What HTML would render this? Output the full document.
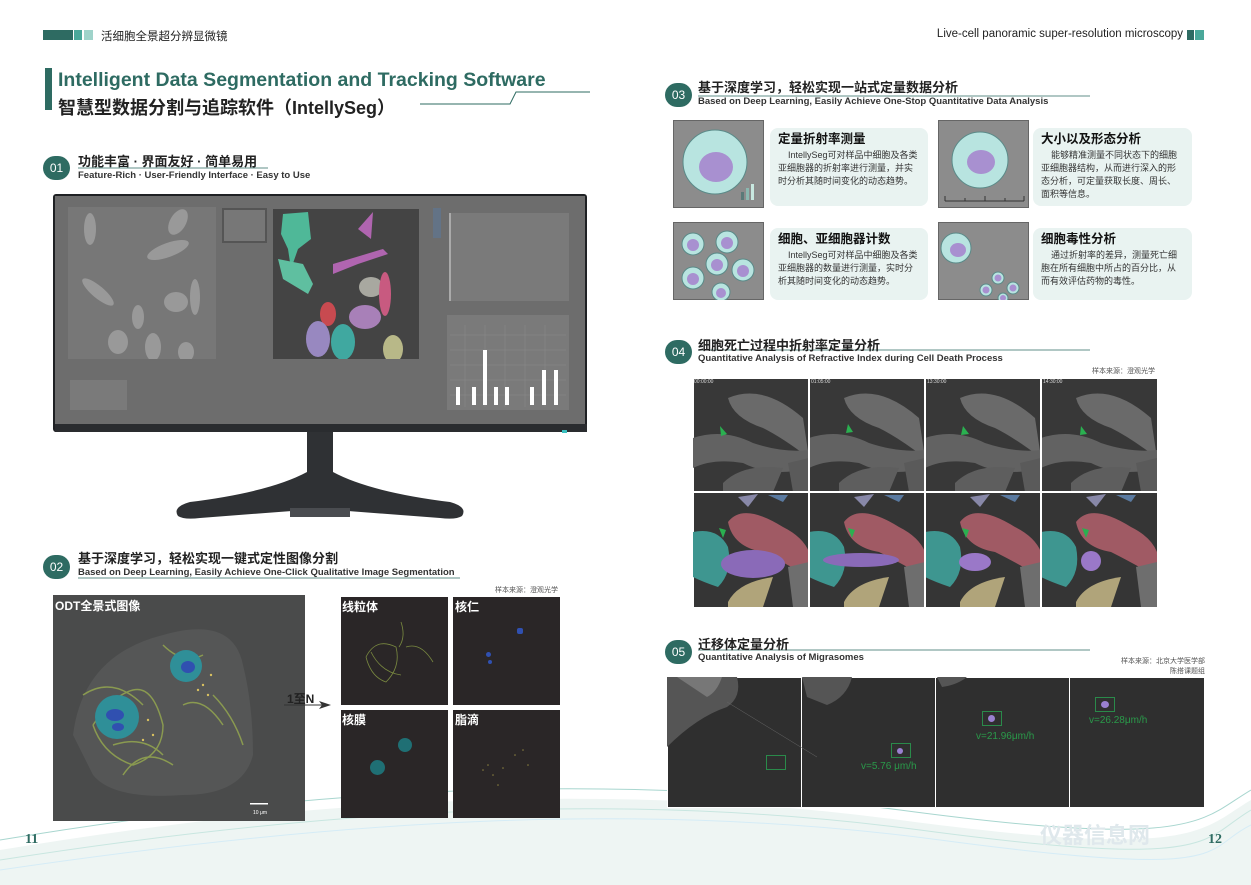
<!DOCTYPE html>
<html><head><meta charset="utf-8"><style>
*{margin:0;padding:0;box-sizing:border-box}
body{width:1251px;height:885px;background:#fff;position:relative;overflow:hidden;font-family:"Liberation Sans","Noto Sans CJK SC",sans-serif;color:#333}
.a{position:absolute}
.circ{position:absolute;width:27px;height:24px;border-radius:12px;background:#2e6b62;color:#fff;font-size:12px;line-height:24px;text-align:center}
.h1{font-size:13px;font-weight:bold;color:#222;white-space:nowrap}
.h2{font-size:9.5px;font-weight:bold;color:#333;white-space:nowrap}
.card{position:absolute;background:#e9f3f1;border-radius:8px;padding:5px 8px;font-size:9px;line-height:13px;color:#333}
.card b{display:block;font-size:12.5px;color:#111;margin-bottom:3px}
.pic{position:absolute;background:#8c8c8c;border:1px solid #666}
.dk{position:absolute;background:#2a2627}
.lab{position:absolute;color:#fff;font-weight:bold;font-size:12px}
.g{position:absolute;background:#383838;border:1px solid #fff;overflow:hidden}
.ts{position:absolute;left:2px;top:1px;font-size:5px;color:#ddd}
</style></head><body>
<svg class="a" style="left:0;top:740px" width="1251" height="145">
<path d="M0 110 C300 60 600 40 900 80 S1200 90 1251 60 L1251 145 L0 145Z" fill="#eef5f3"/>
<path d="M0 100 C300 50 600 30 900 70 S1200 80 1251 50" stroke="#a8d6cf" fill="none"/>
<path d="M0 120 C320 70 620 50 920 90 S1200 100 1251 70" stroke="#c8e6e0" fill="none"/>
<path d="M0 130 C340 80 640 60 940 100 S1200 110 1251 85" stroke="#d5ecf6" fill="none"/>
</svg>
<div class="a" style="left:43px;top:30px;width:30px;height:10px;background:#2e6b62"></div>
<div class="a" style="left:74px;top:30px;width:8px;height:10px;background:#4aa89a"></div>
<div class="a" style="left:84px;top:30px;width:9px;height:10px;background:#9fd3ca"></div>
<div class="a" style="left:101px;top:28px;font-size:11.5px;color:#222">活细胞全景超分辨显微镜</div>
<div class="a" style="left:900px;top:28px;width:283px;text-align:right;font-size:11.5px;color:#222">Live-cell panoramic super-resolution microscopy</div>
<div class="a" style="left:1187px;top:30px;width:7px;height:10px;background:#2e6b62"></div>
<div class="a" style="left:1195px;top:30px;width:9px;height:10px;background:#4aa89a"></div>
<div class="a" style="left:45px;top:68px;width:7px;height:42px;background:#2e6b62"></div>
<div class="a" style="left:58px;top:69px;font-size:19.5px;font-weight:bold;color:#2e6b62;white-space:nowrap">Intelligent Data Segmentation and Tracking Software</div>
<div class="a" style="left:58px;top:94px;font-size:18px;font-weight:bold;color:#222;white-space:nowrap">智慧型数据分割与追踪软件（IntellySeg）</div>
<svg class="a" style="left:0;top:0" width="1251" height="885"><path d="M420 104 H510 L516 92 H590" stroke="#2e6b62" fill="none"/>
<path d="M78 168 H268 M78 578 H460 M698 96 H1090 M698 350 H1090 M698 650 H1090" stroke="#2e6b62" stroke-width="0.8" fill="none"/></svg>
<!-- 01 -->
<div class="circ" style="left:43px;top:156px">01</div>
<div class="a h1" style="left:78px;top:151px">功能丰富 · 界面友好 · 简单易用</div>
<div class="a h2" style="left:78px;top:170px">Feature-Rich · User-Friendly Interface · Easy to Use</div>
<div class="a" style="left:53px;top:194px;width:534px;height:238px;background:#1f2124;border-radius:3px"></div>
<div class="a" style="left:55px;top:196px;width:530px;height:228px;background:#6d6d6d"></div>
<div class="a" style="left:68px;top:207px;width:148px;height:152px;background:#777"></div>
<svg class="a" style="left:68px;top:207px" width="148" height="152" fill="#999">
<ellipse cx="22" cy="22" rx="6" ry="16"/><ellipse cx="110" cy="15" rx="8" ry="14" transform="rotate(30 110 15)"/><ellipse cx="100" cy="43" rx="22" ry="7" transform="rotate(-20 100 43)"/>
<ellipse cx="30" cy="85" rx="20" ry="6" transform="rotate(40 30 85)"/><ellipse cx="108" cy="95" rx="12" ry="10"/><ellipse cx="127" cy="90" rx="5" ry="18"/>
<ellipse cx="70" cy="110" rx="6" ry="12"/><ellipse cx="50" cy="135" rx="10" ry="12"/><ellipse cx="85" cy="140" rx="8" ry="14"/><ellipse cx="118" cy="145" rx="8" ry="10"/></svg>
<div class="a" style="left:222px;top:208px;width:45px;height:35px;background:#777;border:2px solid #555"></div>
<div class="a" style="left:273px;top:209px;width:146px;height:150px;background:#444"></div>
<svg class="a" style="left:273px;top:209px" width="146" height="150">
<path d="M10 5 L35 3 L38 30 L25 40 L18 60 L15 40 L8 25Z" fill="#4fb898"/><path d="M85 20 L100 3 L98 30 Z" fill="#b065b0"/>
<path d="M60 55 L110 40 L115 45 L85 55 L60 65Z" fill="#b065b0"/><path d="M5 50 L30 55 L40 75 L35 85 L10 70Z" fill="#5fbfa0"/>
<ellipse cx="55" cy="105" rx="8" ry="12" fill="#c84a50"/><ellipse cx="98" cy="78" rx="12" ry="10" fill="#a8a8a0"/><ellipse cx="112" cy="85" rx="6" ry="22" fill="#c85a80"/>
<ellipse cx="92" cy="108" rx="16" ry="12" fill="#a880b8"/><ellipse cx="45" cy="130" rx="12" ry="18" fill="#9888c0"/><ellipse cx="70" cy="133" rx="12" ry="18" fill="#40a8a0"/><ellipse cx="120" cy="140" rx="10" ry="14" fill="#b8b888"/></svg>
<div class="a" style="left:433px;top:208px;width:8px;height:30px;background:#5a7aa0;opacity:.5"></div>
<div class="a" style="left:449px;top:213px;width:120px;height:88px;background:#7a7a7a;border-left:2px solid #aaa"></div>
<div class="a" style="left:447px;top:315px;width:122px;height:95px;background:#7a7a7a"></div>
<svg class="a" style="left:450px;top:325px" width="116" height="82"><g stroke="#8a8a8a" stroke-width=".5"><path d="M0 10H116M0 25H116M0 40H116M0 55H116M0 70H116M15 0V82M35 0V82M55 0V82M75 0V82M95 0V82"/></g>
<g fill="#fff"><rect x="6" y="62" width="4" height="18"/><rect x="22" y="62" width="4" height="18"/><rect x="33" y="25" width="4" height="55"/><rect x="44" y="62" width="4" height="18"/><rect x="55" y="62" width="4" height="18"/><rect x="80" y="62" width="4" height="18"/><rect x="92" y="45" width="4" height="35"/><rect x="104" y="45" width="4" height="35"/></g></svg>
<div class="a" style="left:70px;top:380px;width:57px;height:30px;background:#7a7a7a"></div>
<div class="a" style="left:55px;top:424px;width:532px;height:8px;background:#2a2c2f"></div>
<div class="a" style="left:562px;top:430px;width:5px;height:3px;background:#3ac0c0"></div>
<svg class="a" style="left:170px;top:432px" width="300" height="92"><path d="M137 0 H163 V40 Q200 60 280 70 Q298 75 292 84 Q286 88 270 86 L165 78 H135 L30 86 Q14 88 8 84 Q2 75 20 70 Q100 60 137 40Z" fill="#2f3134"/><rect x="120" y="76" width="60" height="9" fill="#4a4c50"/></svg>
<!-- 02 -->
<div class="circ" style="left:43px;top:555px">02</div>
<div class="a h1" style="left:78px;top:548px">基于深度学习，轻松实现一键式定性图像分割</div>
<div class="a h2" style="left:78px;top:567px">Based on Deep Learning, Easily Achieve One-Click  Qualitative Image Segmentation</div>
<div class="a" style="left:495px;top:585px;font-size:7px;color:#555">样本来源：澄观光学</div>
<div class="a" style="left:53px;top:595px;width:252px;height:226px;background:#4a4b4b"></div>
<svg class="a" style="left:53px;top:595px" width="252" height="226">
<path d="M20 140 Q30 60 110 40 Q180 20 190 70 Q200 110 200 160 Q190 200 130 200 Q60 205 40 180Z" fill="#555656"/>
<g stroke="#8a9a50" stroke-width="1.5" fill="none"><path d="M40 130 Q60 100 80 95 Q100 90 110 130 Q110 160 80 170 Q50 160 40 130"/><path d="M30 100 Q60 80 90 110 M70 180 Q90 150 120 170 M110 50 Q130 70 150 60 M160 100 Q180 120 190 150 M130 110 Q150 100 170 130 M60 150 Q90 140 110 160"/></g>
<circle cx="64" cy="122" r="22" fill="#2f8f98"/><ellipse cx="62" cy="120" rx="9" ry="6" fill="#3050b0"/><ellipse cx="65" cy="132" rx="6" ry="4" fill="#3050b0"/>
<circle cx="133" cy="71" r="16" fill="#2f8f98"/><ellipse cx="135" cy="72" rx="7" ry="6" fill="#3050b0"/>
<g fill="#d8c060"><circle cx="90" cy="145" r="1.2"/><circle cx="150" cy="90" r="1.2"/><circle cx="158" cy="80" r="1.2"/><circle cx="95" cy="125" r="1.2"/><circle cx="145" cy="95" r="1.2"/><circle cx="100" cy="140" r="1.2"/><circle cx="155" cy="100" r="1.2"/></g>
<rect x="197" y="208" width="18" height="1.5" fill="#fff"/><text x="200" y="219" font-size="5" fill="#fff">10 μm</text></svg>
<div class="lab" style="left:55px;top:597px">ODT全景式图像</div>
<div class="a" style="left:287px;top:690px;font-size:12px;font-weight:bold;color:#222">1至N</div>
<svg class="a" style="left:284px;top:700px" width="50" height="10"><path d="M0 5 H40" stroke="#333"/><path d="M35 1 L47 5 L35 9 L38 5Z" fill="#333"/></svg>
<div class="dk" style="left:341px;top:597px;width:107px;height:108px"></div>
<div class="dk" style="left:453px;top:597px;width:107px;height:108px"></div>
<div class="dk" style="left:341px;top:710px;width:107px;height:108px"></div>
<div class="dk" style="left:453px;top:710px;width:107px;height:108px"></div>
<svg class="a" style="left:341px;top:597px" width="107" height="108"><g stroke="#7a8a40" fill="none" stroke-width=".8"><path d="M25 60 Q35 40 55 50 Q60 70 45 85 Q30 80 25 60"/><path d="M60 25 Q65 40 58 50 M65 50 Q80 45 92 65 M30 55 Q40 75 60 78"/></g></svg>
<div class="lab" style="left:342px;top:598px">线粒体</div><div class="lab" style="left:455px;top:598px">核仁</div>
<div class="lab" style="left:342px;top:711px">核膜</div><div class="lab" style="left:455px;top:711px">脂滴</div>
<div class="a" style="left:398px;top:738px;width:14px;height:14px;border-radius:50%;background:#1f6f74"></div>
<div class="a" style="left:370px;top:760px;width:15px;height:15px;border-radius:50%;background:#1f6f74"></div>
<div class="a" style="left:517px;top:628px;width:6px;height:6px;background:#3050b0;border-radius:2px"></div>
<div class="a" style="left:486px;top:652px;width:5px;height:5px;background:#3050b0;border-radius:50%"></div>
<div class="a" style="left:488px;top:660px;width:4px;height:4px;background:#3050b0;border-radius:50%"></div>
<svg class="a" style="left:453px;top:710px" width="107" height="108"><g fill="#8a8040"><circle cx="30" cy="60" r=".8"/><circle cx="40" cy="65" r=".8"/><circle cx="50" cy="58" r=".8"/><circle cx="62" cy="45" r=".8"/><circle cx="70" cy="40" r=".8"/><circle cx="45" cy="75" r=".8"/><circle cx="35" cy="55" r=".8"/><circle cx="75" cy="55" r=".8"/></g></svg>
<div class="a" style="left:25px;top:832px;font-size:14px;font-weight:bold;color:#2e6b62;font-family:'Liberation Serif',serif">11</div>
<div class="a" style="left:1208px;top:832px;font-size:14px;font-weight:bold;color:#2e6b62;font-family:'Liberation Serif',serif">12</div>
<!-- 03 -->
<div class="circ" style="left:665px;top:83px">03</div>
<div class="a h1" style="left:698px;top:77px">基于深度学习，轻松实现一站式定量数据分析</div>
<div class="a h2" style="left:698px;top:96px">Based on Deep Learning, Easily Achieve One-Stop Quantitative Data Analysis</div>
<div class="pic" style="left:673px;top:120px;width:91px;height:88px"></div>
<div class="pic" style="left:938px;top:120px;width:91px;height:88px"></div>
<div class="pic" style="left:673px;top:222px;width:91px;height:78px"></div>
<div class="pic" style="left:938px;top:222px;width:91px;height:78px"></div>
<svg class="a" style="left:673px;top:120px" width="360" height="180">
<circle cx="42" cy="42" r="32" fill="#b8e4e0" stroke="#5a8a88"/><ellipse cx="43" cy="47" rx="17" ry="15" fill="#a890d0"/>
<rect x="68" y="72" width="3" height="8" fill="#5a7a78"/><rect x="73" y="68" width="3" height="12" fill="#8ab8b0"/><rect x="78" y="64" width="3" height="16" fill="#c8e8e0"/>
<circle cx="307" cy="40" r="28" fill="#b8e4e0" stroke="#5a8a88"/><ellipse cx="308" cy="42" rx="14" ry="12" fill="#a890d0"/>
<path d="M272 81 H351 M272 76V81 M292 78V81 M312 76V81 M332 78V81 M351 76V81" stroke="#333"/>
<g fill="#b8e4e0" stroke="#5a8a88"><circle cx="20" cy="124" r="11"/><circle cx="54" cy="122" r="11"/><circle cx="70" cy="150" r="11"/><circle cx="44" cy="144" r="11"/><circle cx="20" cy="158" r="11"/><circle cx="48" cy="172" r="9"/><circle cx="283" cy="128" r="15"/><circle cx="325" cy="158" r="6"/><circle cx="340" cy="168" r="6"/><circle cx="313" cy="170" r="6"/><circle cx="330" cy="178" r="5"/></g>
<g fill="#a890d0"><circle cx="20" cy="125" r="6"/><circle cx="54" cy="123" r="6"/><circle cx="70" cy="151" r="6"/><circle cx="44" cy="145" r="6"/><circle cx="20" cy="159" r="6"/><circle cx="48" cy="173" r="5"/><ellipse cx="285" cy="130" rx="8" ry="7"/><circle cx="325" cy="158" r="3.5"/><circle cx="340" cy="168" r="3.5"/><circle cx="313" cy="170" r="3.5"/><circle cx="330" cy="178" r="3"/></g></svg>
<div class="card" style="left:770px;top:128px;width:158px;height:78px"><b>定量折射率测量</b>&nbsp;&nbsp;&nbsp;&nbsp;IntellySeg可对样品中细胞及各类亚细胞器的折射率进行测量，并实时分析其随时间变化的动态趋势。</div>
<div class="card" style="left:1033px;top:128px;width:159px;height:78px"><b>大小以及形态分析</b>&nbsp;&nbsp;&nbsp;&nbsp;能够精准测量不同状态下的细胞亚细胞器结构，从而进行深入的形态分析，可定量获取长度、周长、面积等信息。</div>
<div class="card" style="left:770px;top:228px;width:158px;height:72px"><b>细胞、亚细胞器计数</b>&nbsp;&nbsp;&nbsp;&nbsp;IntellySeg可对样品中细胞及各类亚细胞器的数量进行测量，实时分析其随时间变化的动态趋势。</div>
<div class="card" style="left:1033px;top:228px;width:159px;height:72px"><b>细胞毒性分析</b>&nbsp;&nbsp;&nbsp;&nbsp;通过折射率的差异，测量死亡细胞在所有细胞中所占的百分比，从而有效评估药物的毒性。</div>
<!-- 04 -->
<div class="circ" style="left:665px;top:340px">04</div>
<div class="a h1" style="left:698px;top:335px">细胞死亡过程中折射率定量分析</div>
<div class="a h2" style="left:698px;top:353px">Quantitative Analysis of Refractive Index during Cell Death Process</div>
<div class="a" style="left:1092px;top:366px;font-size:7px;color:#555">样本来源：澄观光学</div>
<svg class="a" style="left:693px;top:378px" width="465" height="230">
<rect width="465" height="230" fill="#fff"/>
<g id="t"><rect x="1" y="1" width="115" height="113" fill="#383838"/>
<path d="M35 20 Q70 5 110 40 L116 80 Q90 60 70 50 Q40 40 35 20Z" fill="#6a6a6a"/>
<path d="M0 60 Q30 50 60 65 Q90 75 116 72 L116 90 Q80 100 50 85 Q20 80 0 90Z" fill="#626262"/>
<path d="M30 105 Q50 85 90 90 L80 114 L30 114Z" fill="#5e5e5e"/>
<path d="M95 85 L116 80 L116 114 L100 114Z" fill="#5a5a5a"/></g>
<use href="#t" x="116"/><use href="#t" x="232"/><use href="#t" x="348"/>
<g fill="#2ab050"><path d="M27 48 L34 56 L28 58Z"/><path d="M155 46 L160 54 L153 55Z"/><path d="M270 48 L276 56 L268 57Z"/><path d="M388 48 L394 56 L387 57Z"/></g>
<g id="b" transform="translate(0 114)"><rect x="1" y="1" width="115" height="114" fill="#353535"/>
<path d="M35 30 Q50 10 90 35 Q110 45 116 60 L116 85 Q90 70 70 60 Q40 55 35 30Z" fill="#a05a64"/>
<path d="M0 40 Q25 35 35 55 Q40 80 25 95 Q10 90 0 85Z" fill="#3e9690"/>
<path d="M35 110 Q45 90 80 85 L70 115 L35 115Z" fill="#b0a47a"/>
<path d="M95 75 L116 70 L116 115 L100 115Z" fill="#6e6e6e"/>
<path d="M45 5 L65 2 L55 15Z" fill="#8888a8"/><path d="M75 3 L95 3 L90 10Z" fill="#5a7aa0"/></g>
<use href="#b" x="116"/><use href="#b" x="232"/><use href="#b" x="348"/>
<ellipse cx="60" cy="186" rx="32" ry="14" fill="#8a6ab8"/><ellipse cx="168" cy="182" rx="38" ry="7" fill="#8a6ab8"/><ellipse cx="282" cy="184" rx="16" ry="9" fill="#9a78c8"/><ellipse cx="398" cy="183" rx="10" ry="10" fill="#9a78c8"/>
<g fill="#2ab050"><path d="M26 150 L33 152 L30 160Z"/><path d="M155 150 L162 152 L159 160Z"/><path d="M269 150 L276 152 L273 160Z"/><path d="M389 150 L396 152 L393 160Z"/></g>
<path d="M116 0V230 M232 0V230 M348 0V230 M0 114H465" stroke="#fff" stroke-width="2"/>
</svg>
<div class="a" style="left:694px;top:379px;font-size:5px;color:#ddd">00:00:00</div>
<div class="a" style="left:811px;top:379px;font-size:5px;color:#ddd">01:05:00</div>
<div class="a" style="left:927px;top:379px;font-size:5px;color:#ddd">13:30:00</div>
<div class="a" style="left:1043px;top:379px;font-size:5px;color:#ddd">14:30:00</div>
<!-- 05 -->
<div class="circ" style="left:665px;top:640px">05</div>
<div class="a h1" style="left:698px;top:634px">迁移体定量分析</div>
<div class="a h2" style="left:698px;top:652px">Quantitative Analysis of Migrasomes</div>
<div class="a" style="left:1110px;top:656px;font-size:7px;color:#555;text-align:right;width:95px">样本来源：北京大学医学部<br>陈搭课题组</div>
<div class="g" style="left:667px;top:677px;width:135px;height:131px;background:#2f2f2f"></div>
<div class="g" style="left:801px;top:677px;width:135px;height:131px;background:#2f2f2f"></div>
<div class="g" style="left:935px;top:677px;width:135px;height:131px;background:#2f2f2f"></div>
<div class="g" style="left:1069px;top:677px;width:136px;height:131px;background:#2f2f2f"></div>
<svg class="a" style="left:667px;top:677px" width="540" height="131">
<path d="M0 0 H70 Q75 20 60 30 Q30 40 0 70Z" fill="#555"/><path d="M10 0 H55 Q50 15 40 20Z" fill="#777"/>
<path d="M135 0 H185 Q180 20 160 28 L140 20Z" fill="#555"/><path d="M270 0 H300 Q290 8 275 10Z" fill="#555"/>
<path d="M60 25 L150 80" stroke="#666" stroke-width=".5"/></svg>
<div class="a" style="left:766px;top:755px;width:20px;height:15px;border:1px solid #2a8a4a"></div>
<div class="a" style="left:891px;top:743px;width:20px;height:15px;border:1px solid #2a8a4a"></div>
<div class="a" style="left:897px;top:748px;width:6px;height:6px;border-radius:50%;background:#9a80d0"></div>
<div class="a" style="left:861px;top:761px;font-size:10px;color:#2a9a4a">v=5.76 μm/h</div>
<div class="a" style="left:982px;top:711px;width:20px;height:15px;border:1px solid #2a8a4a"></div>
<div class="a" style="left:988px;top:715px;width:7px;height:7px;border-radius:50%;background:#9a80d0"></div>
<div class="a" style="left:976px;top:731px;font-size:10px;color:#2a9a4a">v=21.96μm/h</div>
<div class="a" style="left:1095px;top:697px;width:20px;height:15px;border:1px solid #2a8a4a"></div>
<div class="a" style="left:1101px;top:701px;width:8px;height:7px;border-radius:50%;background:#9a80d0"></div>
<div class="a" style="left:1089px;top:715px;font-size:10px;color:#2a9a4a">v=26.28μm/h</div>
<div class="a" style="left:1040px;top:818px;font-size:22px;font-weight:bold;color:#dfe8ec">仪器信息网</div>
</body></html>
